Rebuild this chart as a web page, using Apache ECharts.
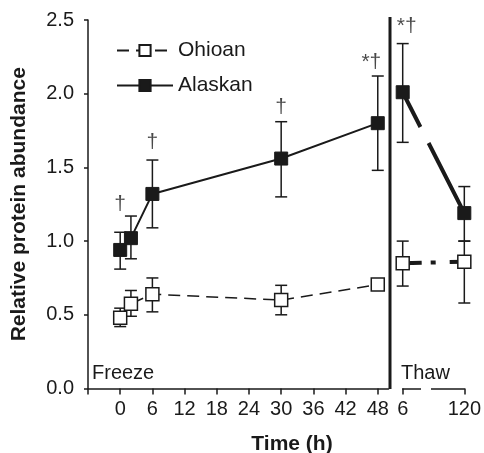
<!DOCTYPE html>
<html>
<head>
<meta charset="utf-8">
<script src="https://cdn.jsdelivr.net/npm/echarts@6/dist/echarts.min.js"></script>
<style>
  html, body { margin: 0; padding: 0; background: #fff; }
  #main { width: 484px; height: 453px; }
</style>
</head>
<body>
<div id="main"></div>
<script>
var freezeTimes = [0, 2, 6, 30, 48];
var thawTimes = ['6', '120'];
var yTicks = [0, 0.5, 1.0, 1.5, 2.0, 2.5];

var alaskanFreeze     = [0.94, 1.02, 1.32, 1.56, 1.80];
var alaskanFreezeLow  = [0.81, 0.88, 1.09, 1.30, 1.48];
var alaskanFreezeHigh = [1.06, 1.17, 1.55, 1.81, 2.12];
var alaskanThaw     = [2.01, 1.19];
var alaskanThawLow  = [1.67, 1.00];
var alaskanThawHigh = [2.34, 1.37];

var ohioanFreeze     = [0.48, 0.575, 0.64, 0.60, 0.705];
var ohioanFreezeLow  = [0.42, 0.49, 0.52, 0.50, 0.705];
var ohioanFreezeHigh = [0.545, 0.665, 0.75, 0.70, 0.705];
var ohioanThaw     = [0.85, 0.86];
var ohioanThawLow  = [0.695, 0.58];
var ohioanThawHigh = [1.00, 1.00];

// significance marks: [x, y, text]
var marksFreeze = [[0, 1.25, '†'], [6, 1.67, '†'], [30, 1.91, '†'], [46.8, 2.215, '*†']];
var marksThaw = [['6', 2.46, '*†']];

var ink = '#1a1a1a';
var font = 'Liberation Sans, Arial, sans-serif';

function pairs(xs, ys) {
    return xs.map(function (x, i) { return [x, ys[i]]; });
}
function triples(xs, lo, hi) {
    return xs.map(function (x, i) { return [x, lo[i], hi[i]]; });
}

function errorBar(params, api) {
    var x = api.value(0);
    var lo = api.coord([x, api.value(1)]);
    var hi = api.coord([x, api.value(2)]);
    var w = 6;
    var st = { stroke: ink, lineWidth: 1.5 };
    return {
        type: 'group',
        children: [
            { type: 'line', shape: { x1: lo[0], y1: lo[1], x2: hi[0], y2: hi[1] }, style: st },
            { type: 'line', shape: { x1: lo[0] - w, y1: lo[1], x2: lo[0] + w, y2: lo[1] }, style: st },
            { type: 'line', shape: { x1: hi[0] - w, y1: hi[1], x2: hi[0] + w, y2: hi[1] }, style: st }
        ]
    };
}

function marks(name, data, xi) {
    return {
        name: name,
        type: 'scatter',
        xAxisIndex: xi, yAxisIndex: xi,
        symbolSize: 0,
        z: 5,
        data: data.map(function (d) { return { value: [d[0], d[1]], txt: d[2] }; }),
        label: {
            show: true, position: 'inside',
            offset: xi === 1 ? [4, 0] : [0, 0],
            formatter: function (p) { return p.data.txt; },
            color: ink, fontSize: 21, fontFamily: font
        },
        silent: true
    };
}

var openSq = { color: '#fff', borderColor: ink, borderWidth: 1.5 };
var fillSq = { color: ink, borderColor: ink, borderWidth: 1 };

var chart = echarts.init(document.getElementById('main'));
chart.setOption({
    animation: false,
    backgroundColor: '#fff',
    textStyle: { fontFamily: font, color: ink },
    legend: {
        data: ['Ohioan', 'Alaskan'],
        orient: 'vertical',
        left: 111, top: 35,
        itemWidth: 56, itemHeight: 14, itemGap: 14,
        textStyle: { fontSize: 21, color: ink, fontFamily: font },
        selectedMode: false
    },
    grid: [
        { left: 88, top: 20, width: 300.5, height: 368.5 },
        { left: 402.7, top: 20, width: 62, height: 368.5 }
    ],
    xAxis: [
        {
            type: 'value', gridIndex: 0, min: -6, max: 50, interval: 6,
            axisLine: { onZero: false, lineStyle: { color: ink, width: 1.5 } },
            axisTick: { length: 6, lineStyle: { color: ink, width: 1.5 } },
            axisLabel: {
                margin: 11, fontSize: 20, color: ink, fontFamily: font,
                formatter: function (v) { return v < 0 ? '' : String(v); }
            },
            splitLine: { show: false }
        },
        {
            type: 'category', gridIndex: 1, data: thawTimes, boundaryGap: false,
            axisLine: { onZero: false, lineStyle: { color: ink, width: 1.5 } },
            axisTick: { length: 6, lineStyle: { color: ink, width: 1.5 } },
            axisLabel: { margin: 11, fontSize: 20, color: ink, fontFamily: font }
        }
    ],
    yAxis: [
        {
            type: 'value', gridIndex: 0, min: 0, max: 2.5, interval: 0.5,
            name: 'Relative protein abundance',
            nameLocation: 'middle', nameGap: 58,
            nameTextStyle: { fontSize: 21, fontWeight: 'bold', color: ink, fontFamily: font },
            axisLine: { show: true, onZero: false, lineStyle: { color: ink, width: 1.5 } },
            axisTick: { show: true, length: 4, lineStyle: { color: ink, width: 1.5 } },
            axisLabel: {
                margin: 14, fontSize: 20, color: ink, fontFamily: font,
                formatter: function (v) { return v.toFixed(1); }
            },
            splitLine: { show: false }
        },
        {
            type: 'value', gridIndex: 1, min: 0, max: 2.5, interval: 0.5,
            show: false
        }
    ],
    graphic: [
        { type: 'line', z: 100, shape: { x1: 390, y1: 17, x2: 390, y2: 389 },
          style: { stroke: ink, lineWidth: 3 } },
        { type: 'rect', z: 100, shape: { x: 421, y: 384, width: 10, height: 8 },
          style: { fill: '#fff' } },
        { type: 'text', z: 100, left: 92, top: 363,
          style: { text: 'Freeze', fontSize: 20, fill: ink, fontFamily: font } },
        { type: 'text', z: 100, left: 401, top: 363,
          style: { text: 'Thaw', fontSize: 20, fill: ink, fontFamily: font } },
        { type: 'text', z: 100, x: 292, y: 444,
          style: { text: 'Time (h)', fontSize: 21, fontWeight: 'bold', fill: ink, fontFamily: font,
                   align: 'center', verticalAlign: 'middle' } }
    ],
    series: [
        {
            name: 'Ohioan err', type: 'custom', xAxisIndex: 0, yAxisIndex: 0, z: 1,
            renderItem: errorBar, data: triples(freezeTimes, ohioanFreezeLow, ohioanFreezeHigh)
        },
        {
            name: 'Alaskan err', type: 'custom', xAxisIndex: 0, yAxisIndex: 0, z: 1,
            renderItem: errorBar, data: triples(freezeTimes, alaskanFreezeLow, alaskanFreezeHigh)
        },
        {
            name: 'Ohioan thaw err', type: 'custom', xAxisIndex: 1, yAxisIndex: 1, z: 1,
            renderItem: errorBar, data: triples(thawTimes, ohioanThawLow, ohioanThawHigh)
        },
        {
            name: 'Alaskan thaw err', type: 'custom', xAxisIndex: 1, yAxisIndex: 1, z: 1,
            renderItem: errorBar, data: triples(thawTimes, alaskanThawLow, alaskanThawHigh)
        },
        {
            name: 'Ohioan', type: 'line', xAxisIndex: 0, yAxisIndex: 0, z: 3,
            data: pairs(freezeTimes, ohioanFreeze),
            symbol: 'rect', symbolSize: 13, itemStyle: openSq,
            lineStyle: { color: ink, width: 1.5, type: [12, 7] }
        },
        {
            name: 'Alaskan', type: 'line', xAxisIndex: 0, yAxisIndex: 0, z: 3,
            data: pairs(freezeTimes, alaskanFreeze),
            symbol: 'rect', symbolSize: 13, itemStyle: fillSq,
            lineStyle: { color: ink, width: 2 }
        },
        {
            name: 'Ohioan thaw', type: 'line', xAxisIndex: 1, yAxisIndex: 1, z: 3,
            data: pairs(thawTimes, ohioanThaw),
            symbol: 'rect', symbolSize: 13, itemStyle: openSq,
            lineStyle: { color: ink, width: 4, type: [19, 9, 5, 14, 40] }
        },
        {
            name: 'Alaskan thaw', type: 'line', xAxisIndex: 1, yAxisIndex: 1, z: 3,
            data: pairs(thawTimes, alaskanThaw),
            symbol: 'rect', symbolSize: 13, itemStyle: fillSq,
            lineStyle: { color: ink, width: 4, type: [39, 18, 200] }
        },
        marks('marks freeze', marksFreeze, 0),
        marks('marks thaw', marksThaw, 1)
    ]
});
</script>
</body>
</html>
